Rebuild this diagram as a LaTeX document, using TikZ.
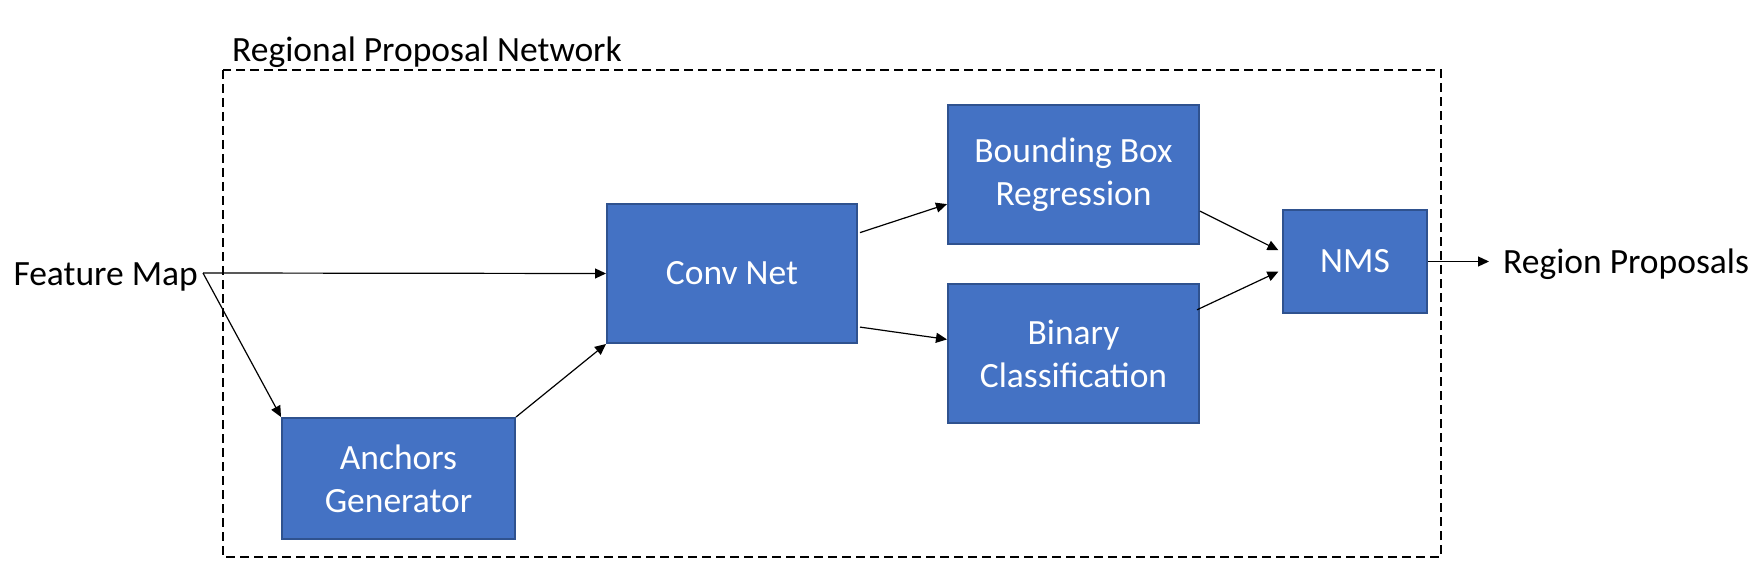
\documentclass[tikz,border=0pt]{standalone}
\usepackage{fontspec}
\setmainfont{Carlito}
\usetikzlibrary{arrows.meta,calc}
\definecolor{boxblue}{HTML}{4472C4}
\definecolor{boxedge}{HTML}{2F528F}
\begin{document}
\begin{tikzpicture}[x=1pt,y=-1pt,
  font=\fontsize{35.5}{43}\selectfont,
  block/.style={draw=boxedge, line width=2pt, fill=boxblue, text=white, align=center, inner sep=0pt},
  conn/.style={line width=1.2pt, -{Triangle[length=11pt,width=10pt]}},
  region/.style={line width=2.4pt, dash pattern=on 9pt off 5pt}]
\useasboundingbox (0,0) rectangle (1754,567);
\draw[region] (223,70) rectangle (1441,557);
\node[anchor=base west, inner sep=0pt] (rpnlabel) at (232,62) {Regional Proposal Network};

\node[block, minimum width=250pt, minimum height=139pt] (conv) at (732,273.5) {Conv Net};
\node[block, minimum width=233pt, minimum height=121pt] (anch) at (398.5,478.5) {Anchors\\Generator};
\node[block, minimum width=251pt, minimum height=139pt] (bbr) at (1073.5,174.5) {Bounding Box\\Regression};
\node[block, minimum width=251pt, minimum height=139pt] (bin) at (1073.5,353.5) {Binary\\Classification};
\node[block, minimum width=144pt, minimum height=103pt] (nms) at (1355,261.5) {NMS};

\node[anchor=base east, inner sep=0pt] (fm) at (198,285) {Feature Map};
\coordinate (fmout) at (203,273);
\node[anchor=base west, inner sep=0pt] (rp) at (1503,273) {Region Proposals};
\coordinate (rpin) at ($(nms.east -| rp.west)+(-14,0)$);

\draw[conn] (fmout) -- (conv.west);
\draw[conn] (fmout) -- (anch.north west);
\draw[conn] (anch.north east) -- (conv.south west);
\draw[conn] ($(conv.north east)!0.21!(conv.south east)+(2,0)$) -- ($(bbr.north west)!0.71!(bbr.south west)$);
\draw[conn] ($(conv.north east)!0.88!(conv.south east)+(2,0)$) -- ($(bin.north west)!0.40!(bin.south west)$);
\draw[conn, shorten >=4pt] ($(bbr.north east)!0.76!(bbr.south east)$) -- ($(nms.north west)!0.41!(nms.south west)$);
\draw[conn, shorten >=4pt] ($(bin.north east)!0.19!(bin.south east)+(-3,0)$) -- ($(nms.north west)!0.58!(nms.south west)$);
\draw[conn] (nms.east) -- (rpin);
\end{tikzpicture}
\end{document}
